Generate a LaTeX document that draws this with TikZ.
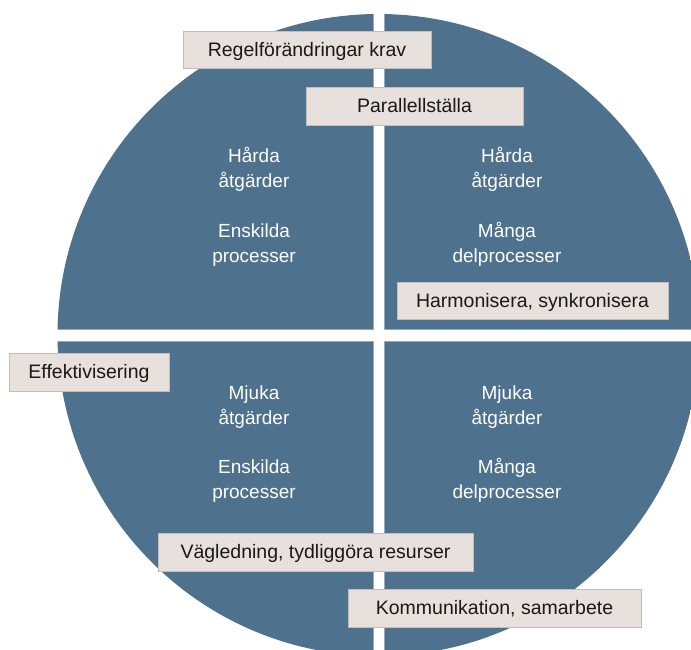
\documentclass[tikz,border=0pt]{standalone}
\usepackage{fontspec}
\setmainfont{Liberation Sans}
\definecolor{qblue}{RGB}{78,113,141}
\definecolor{qedge}{RGB}{150,170,188}
\definecolor{boxfill}{RGB}{232,224,220}
\definecolor{boxedge}{RGB}{196,188,184}
\definecolor{boxtext}{RGB}{25,25,25}
\begin{document}
\begin{tikzpicture}[x=1pt,y=-1pt,
  quad/.style={fill=qblue, draw=qedge, line width=0.8pt},
  lbl/.style={draw=boxedge, line width=0.6pt, fill=boxfill, inner sep=0pt,
    text height=13.6pt, text depth=0pt, text=boxtext,
    font=\fontsize{19.5}{22}\selectfont},
  qtxt/.style={text=white, inner sep=0pt, anchor=base,
    font=\fontsize{19}{22}\selectfont}]
\useasboundingbox (0,0) rectangle (691,650);
% circle split into four quadrants
\begin{scope}
  \clip (0,0) rectangle (691,650);
  \clip (378.5,335) circle[radius=321pt];
  \path[quad] (-10,-10) rectangle (373,329);
  \path[quad] (384,-10) rectangle (710,329);
  \path[quad] (-10,341) rectangle (373,670);
  \path[quad] (384,341) rectangle (710,670);
\end{scope}
% quadrant texts
\node[qtxt] (tl1) at (254,163) {Hårda};
\node[qtxt] (tl2) at (254,188) {åtgärder};
\node[qtxt] (tl3) at (254,237) {Enskilda};
\node[qtxt] (tl4) at (254,262) {processer};
\node[qtxt] (tr1) at (507,163) {Hårda};
\node[qtxt] (tr2) at (507,188) {åtgärder};
\node[qtxt] (tr3) at (507,237) {Många};
\node[qtxt] (tr4) at (507,262) {delprocesser};
\node[qtxt] (bl1) at (254,399) {Mjuka};
\node[qtxt] (bl2) at (254,424) {åtgärder};
\node[qtxt] (bl3) at (254,473) {Enskilda};
\node[qtxt] (bl4) at (254,498) {processer};
\node[qtxt] (br1) at (507,399) {Mjuka};
\node[qtxt] (br2) at (507,424) {åtgärder};
\node[qtxt] (br3) at (507,473) {Många};
\node[qtxt] (br4) at (507,498) {delprocesser};
% label boxes
\node[lbl, minimum width=248pt, minimum height=37pt] (regel) at (307,49.5) {Regelförändringar krav};
\node[lbl, minimum width=217pt, minimum height=38pt] (para) at (414.5,106) {Parallellställa};
\node[lbl, minimum width=271pt, minimum height=37pt] (harm) at (532.5,300.5) {Harmonisera, synkronisera};
\node[lbl, minimum width=160pt, minimum height=38pt] (eff) at (89,372) {Effektivisering};
\node[lbl, minimum width=315pt, minimum height=38pt] (vag) at (315.5,552) {Vägledning, tydliggöra resurser};
\node[lbl, minimum width=293pt, minimum height=38pt] (komm) at (494.5,608) {Kommunikation, samarbete};
\end{tikzpicture}
\end{document}
